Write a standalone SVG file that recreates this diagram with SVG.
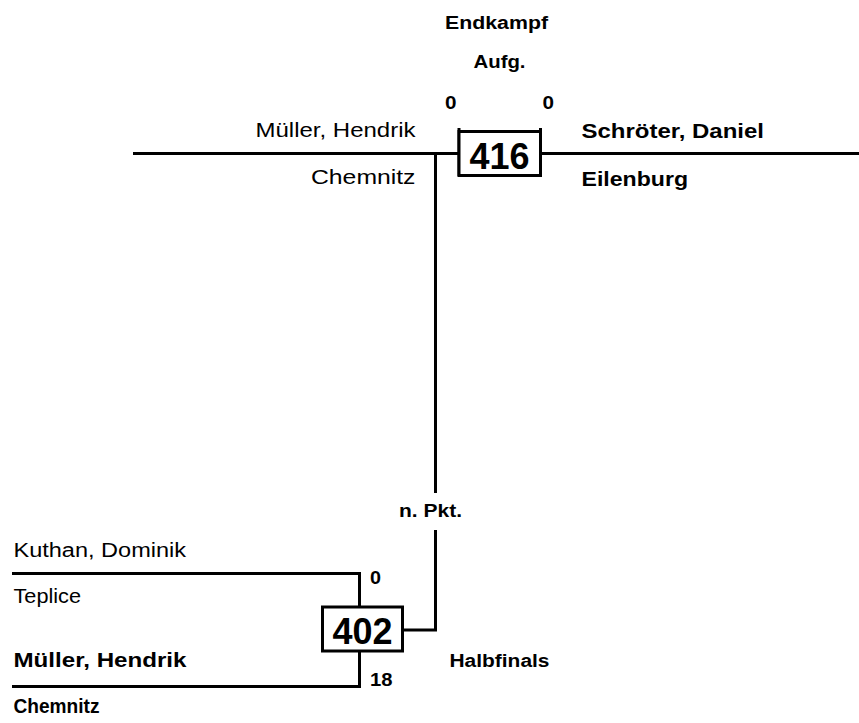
<svg xmlns="http://www.w3.org/2000/svg" width="859" height="723" viewBox="0 0 859 723">
<style>
.ln{stroke:#000;stroke-width:3;fill:none}
.bx{stroke:#000;stroke-width:3;fill:#fff}
text{font-family:"Liberation Sans",Arial,sans-serif;fill:#000}
.nm{font-size:20px}
.b{font-weight:bold}
.lb{font-size:18px;font-weight:bold}
.num{font-size:36px;font-weight:bold}
</style>
<rect width="859" height="723" fill="#fff"/>
<g id="connectors">
<path class="ln" d="M133,153.5H459"/>
<path class="ln" d="M540.5,153.5H859"/>
<path class="ln" d="M435.5,153.5V493"/>
<path class="ln" d="M435.5,530V630H402.5"/>
<path class="ln" d="M12,573.5H359.5V607"/>
<path class="ln" d="M12,686.5H359.5V651"/>
<path class="ln" d="M459,128V176"/>
<path class="ln" d="M540.5,128V176"/>
</g>
<g id="labels">
<text class="lb" x="445" y="29" textLength="103" lengthAdjust="spacingAndGlyphs">Endkampf</text>
<text class="lb" x="473.5" y="68" textLength="52" lengthAdjust="spacingAndGlyphs">Aufg.</text>
<text class="lb" x="445" y="109" textLength="11.5" lengthAdjust="spacingAndGlyphs">0</text>
<text class="lb" x="542.5" y="109" textLength="11.5" lengthAdjust="spacingAndGlyphs">0</text>
<text class="lb" x="399" y="517" textLength="63" lengthAdjust="spacingAndGlyphs">n. Pkt.</text>
<text class="lb" x="449.5" y="666.5" textLength="100" lengthAdjust="spacingAndGlyphs">Halbfinals</text>
<text class="lb" x="370" y="584" textLength="11" lengthAdjust="spacingAndGlyphs">0</text>
<text class="lb" x="370" y="685.5" textLength="22.5" lengthAdjust="spacingAndGlyphs">18</text>
</g>
<g id="match416">
<rect class="bx" x="459" y="131.5" width="81.5" height="44"/>
<text class="num" x="469.5" y="168.5" textLength="60" lengthAdjust="spacingAndGlyphs">416</text>
</g>
<g id="match402">
<rect class="bx" x="322.5" y="607" width="80" height="44"/>
<text class="num" x="332.5" y="643.5" textLength="60" lengthAdjust="spacingAndGlyphs">402</text>
</g>
<g id="player-mueller-top">
<text class="nm" x="255.5" y="137" textLength="160" lengthAdjust="spacingAndGlyphs">Müller, Hendrik</text>
<text class="nm" x="311" y="183.5" textLength="104.5" lengthAdjust="spacingAndGlyphs">Chemnitz</text>
</g>
<g id="player-schroeter">
<text class="nm b" x="581.5" y="137.5" textLength="182.5" lengthAdjust="spacingAndGlyphs">Schröter, Daniel</text>
<text class="nm b" x="581.5" y="186" textLength="106.5" lengthAdjust="spacingAndGlyphs">Eilenburg</text>
</g>
<g id="player-kuthan">
<text class="nm" x="13.5" y="556.5" textLength="172.5" lengthAdjust="spacingAndGlyphs">Kuthan, Dominik</text>
<text class="nm" x="13.5" y="602.5" textLength="67.5" lengthAdjust="spacingAndGlyphs">Teplice</text>
</g>
<g id="player-mueller-bottom">
<text class="nm b" x="13.5" y="666.5" textLength="173" lengthAdjust="spacingAndGlyphs">Müller, Hendrik</text>
<text class="nm b" x="13.5" y="712.5" textLength="86" lengthAdjust="spacingAndGlyphs">Chemnitz</text>
</g>
</svg>
